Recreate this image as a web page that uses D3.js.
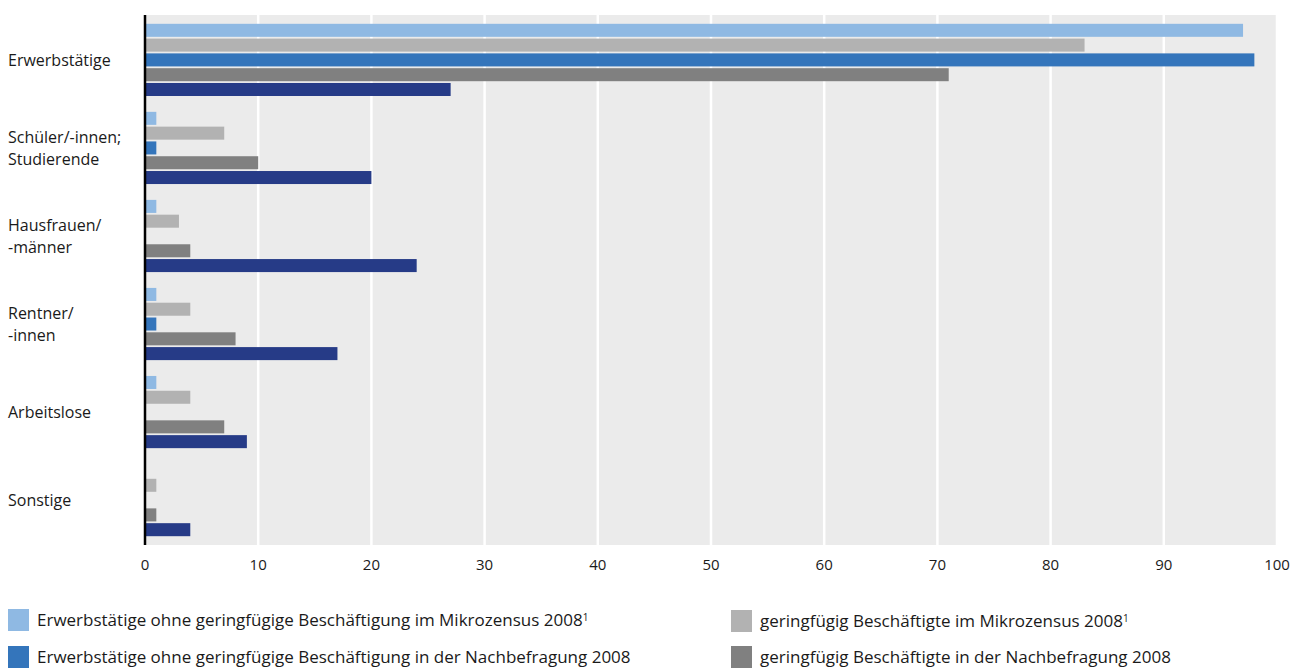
<!DOCTYPE html>
<html>
<head>
<meta charset="utf-8">
<script src="https://cdn.jsdelivr.net/npm/d3@7"></script>
<style>
  body { margin: 0; background: #fff; }
  text { font-family: "Open Sans", sans-serif; fill: #1a1a1a; }
</style>
</head>
<body>
<svg id="chart" width="1296" height="668"></svg>
<script>
// categories (y axis), each label split into lines
var categories = [
    ["Erwerbstätige"],
    ["Schüler/-innen;", "Studierende"],
    ["Hausfrauen/", "-männer"],
    ["Rentner/", "-innen"],
    ["Arbeitslose"],
    ["Sonstige"]
];

var seriesNames = [
    "Erwerbstätige ohne geringfügige Beschäftigung im Mikrozensus 2008",
    "geringfügig Beschäftigte im Mikrozensus 2008",
    "Erwerbstätige ohne geringfügige Beschäftigung in der Nachbefragung 2008",
    "geringfügig Beschäftigte in der Nachbefragung 2008",
    "Nicht Erwerbstätige"
];
var seriesColors = ["#8fb9e3", "#b2b2b2", "#3475bb", "#808080", "#263b87"];

// values per category, order of seriesNames
var erwerbstaetige = [97, 83, 98, 71, 27];
var schueler       = [1, 7, 1, 10, 20];
var hausfrauen     = [1, 3, 0, 4, 24];
var rentner        = [1, 4, 1, 8, 17];
var arbeitslose    = [1, 4, 0, 7, 9];
var sonstige       = [0, 1, 0, 1, 4];
var values = [erwerbstaetige, schueler, hausfrauen, rentner, arbeitslose, sonstige];

var xTicks = [0, 10, 20, 30, 40, 50, 60, 70, 80, 90, 100];

(function() {
    var svg = d3.select("#chart");
    var m = {left: 145, right: 1277, top: 15, bottom: 545};

    var x = d3.scaleLinear().domain([0, 100]).range([m.left, m.right]);
    var y0 = d3.scaleBand().domain(d3.range(categories.length)).range([m.top, m.bottom])
        .paddingInner(0.18).paddingOuter(0.1);
    var y1 = d3.scaleBand().domain(d3.range(seriesNames.length)).range([0, y0.bandwidth()])
        .paddingInner(0.12);

    // background
    svg.append("rect")
        .attr("x", m.left).attr("y", m.top)
        .attr("width", m.right - m.left).attr("height", m.bottom - m.top)
        .attr("fill", "#ebebeb");

    // grid
    svg.selectAll("line.grid")
        .data(xTicks.slice(1))
        .enter().append("line")
        .attr("class", "grid")
        .attr("x1", function(d) { return x(d); })
        .attr("x2", function(d) { return x(d); })
        .attr("y1", m.top).attr("y2", m.bottom)
        .attr("stroke", "#fff").attr("stroke-width", 2.5);

    // bars
    var groups = svg.selectAll("g.cat")
        .data(values)
        .enter().append("g")
        .attr("class", "cat")
        .attr("transform", function(d, i) { return "translate(0," + y0(i) + ")"; });

    groups.selectAll("rect")
        .data(function(d) { return d; })
        .enter().append("rect")
        .attr("x", x(0))
        .attr("y", function(d, i) { return y1(i); })
        .attr("width", function(d) { return x(d) - x(0); })
        .attr("height", y1.bandwidth())
        .attr("fill", function(d, i) { return seriesColors[i]; });

    // zero axis
    svg.append("line")
        .attr("x1", x(0)).attr("x2", x(0))
        .attr("y1", m.top).attr("y2", m.bottom)
        .attr("stroke", "#000").attr("stroke-width", 2.5);

    // x tick labels
    svg.selectAll("text.tick")
        .data(xTicks)
        .enter().append("text")
        .attr("class", "tick")
        .attr("x", function(d) { return x(d); })
        .attr("y", 565)
        .attr("dy", "0.35em")
        .attr("text-anchor", "middle")
        .style("font-size", "15px")
        .text(function(d) { return d; });

    // category labels
    svg.selectAll("text.catlabel")
        .data(categories)
        .enter().append("text")
        .attr("class", "catlabel")
        .attr("x", 8)
        .attr("y", function(d, i) { return y0(i) + y0.bandwidth() / 2 - (d.length - 1) * 11; })
        .style("font-size", "16px")
        .each(function(d) {
            var t = d3.select(this);
            d.forEach(function(line, j) {
                t.append("tspan")
                    .attr("x", 8)
                    .attr("dy", j === 0 ? "0.35em" : "22")
                    .text(line);
            });
        });

    // legend (first four series)
    var legendItems = [
        {i: 0, x: 8, y: 620, sup: true},
        {i: 2, x: 8, y: 657, sup: false},
        {i: 1, x: 731, y: 621, sup: true},
        {i: 3, x: 731, y: 657, sup: false}
    ];
    var legend = svg.selectAll("g.legend")
        .data(legendItems)
        .enter().append("g")
        .attr("class", "legend")
        .attr("transform", function(d) { return "translate(" + d.x + "," + d.y + ")"; });

    legend.append("rect")
        .attr("x", 0).attr("y", -11)
        .attr("width", 21).attr("height", 22)
        .attr("fill", function(d) { return seriesColors[d.i]; });

    legend.append("text")
        .attr("x", 29)
        .attr("dy", "0.35em")
        .style("font-size", "17px")
        .each(function(d) {
            var t = d3.select(this);
            t.append("tspan").text(seriesNames[d.i]);
            if (d.sup) {
                t.append("tspan").attr("dy", "-0.45em").style("font-size", "10px").text("1");
            }
        });
})();
</script>
</body>
</html>
